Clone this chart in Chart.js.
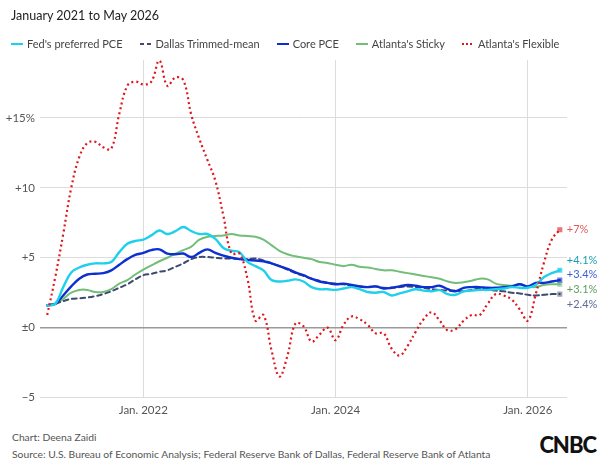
<!DOCTYPE html>
<html>
<head>
<meta charset="utf-8">
<script src="https://cdn.jsdelivr.net/npm/chart.js@4/dist/chart.umd.min.js"></script>
<style>
  html, body { margin: 0; padding: 0; background: #fff; }
  body { width: 600px; height: 464px; position: relative; overflow: hidden; font-family: Lato, "Open Sans", sans-serif; }
  #chartBox { position: absolute; left: 0; top: 0; width: 600px; height: 425px; }
  #title { position: absolute; left: 11px; top: 8px; font-size: 12.5px; color: #222; }
  #legend { position: absolute; left: 11px; top: 37px; display: flex; font-size: 11px; color: #444; white-space: nowrap; }
  .item { display: flex; align-items: center; margin-right: 17px; }
  .sw { width: 12px; height: 2px; margin-right: 4px; }
  #credit { position: absolute; left: 12px; top: 429px; font-size: 10.3px; color: #555; line-height: 17px; }
  #logo { position: absolute; right: 4px; top: 431px; font-family: Lato, sans-serif; font-weight: 900; font-size: 22px; color: #111; letter-spacing: -1px; }
</style>
</head>
<body>
<div id="chartBox"><canvas id="myChart" width="600" height="425"></canvas></div>
<div id="title">January 2021 to May 2026</div>
<div id="legend"></div>
<div id="credit">Chart: Deena Zaidi<br>Source: U.S. Bureau of Economic Analysis; Federal Reserve Bank of Dallas, Federal Reserve Bank of Atlanta</div>
<div id="logo">CNBC</div>
<script>
// months are counted from Jan 2021 (0) to May 2026 (64)
const xTickMonths = [12, 36, 60];
const xTickLabels = ['Jan. 2022', 'Jan. 2024', 'Jan. 2026'];
const yTicks = [-5, 0, 5, 10, 15];
const yTickLabels = ['\u22125', '\u00b10', '+5', '+10', '+15%'];

const seriesNames = ["Fed's preferred PCE", 'Dallas Trimmed-mean', 'Core PCE', "Atlanta's Sticky", "Atlanta's Flexible"];

const fedPCE = [1.6,1.7,2.9,3.95,4.3,4.5,4.6,4.6,4.7,5.4,6.0,6.2,6.3,6.6,6.95,6.7,6.9,7.2,6.9,6.7,6.7,6.35,5.7,5.5,5.4,4.7,4.4,4.1,3.4,3.3,3.35,3.45,3.3,2.9,2.75,2.75,2.7,2.8,2.9,2.75,2.55,2.5,2.55,2.3,2.45,2.6,2.75,2.65,2.6,2.68,2.4,2.35,2.6,2.65,2.7,2.7,2.75,2.8,2.9,2.85,2.85,3.05,3.6,3.9,4.1];
const dallasTrimmed = [1.6,1.7,1.9,2.05,2.1,2.15,2.25,2.4,2.6,2.85,3.1,3.45,3.75,3.85,4.0,4.1,4.35,4.6,4.9,5.05,5.05,5.0,4.95,4.95,4.9,4.9,4.95,4.8,4.6,4.4,4.15,3.9,3.7,3.5,3.35,3.2,3.15,3.1,3.0,2.95,2.9,2.95,2.85,2.85,2.9,2.95,2.9,2.85,2.75,2.7,2.65,2.65,2.6,2.7,2.8,2.75,2.65,2.6,2.5,2.45,2.35,2.3,2.35,2.4,2.4];
const corePCE = [1.6,1.7,2.3,2.95,3.5,3.8,3.85,3.9,4.1,4.5,4.9,5.2,5.35,5.55,5.6,5.3,5.25,5.3,5.05,5.35,5.6,5.35,5.15,5.0,4.9,4.85,4.8,4.75,4.6,4.4,4.2,3.95,3.75,3.5,3.3,3.2,3.1,3.15,3.05,2.95,2.9,2.95,2.8,2.85,2.95,3.05,3.0,2.9,2.9,3.0,2.75,2.6,2.85,2.9,2.9,2.85,2.85,2.9,2.95,3.1,2.95,3.2,3.2,3.3,3.4];
const atlSticky = [1.6,1.7,2.05,2.5,2.7,2.7,2.55,2.55,2.75,3.15,3.4,3.8,4.15,4.45,4.75,5.0,5.3,5.55,5.8,6.3,6.5,6.55,6.6,6.7,6.6,6.55,6.5,6.3,5.9,5.5,5.25,5.1,5.0,4.9,4.7,4.63,4.5,4.4,4.5,4.35,4.3,4.2,4.1,4.1,4.0,3.9,3.8,3.7,3.6,3.5,3.3,3.2,3.25,3.35,3.5,3.45,3.15,3.05,3.0,3.1,2.95,2.9,3.05,3.1,3.1];
const atlFlexible = [0.9,3.6,6.7,10.0,12.2,13.2,13.3,12.9,12.8,15.3,17.3,17.6,17.4,17.6,19.1,17.3,17.9,17.7,15.2,13.5,12.0,10.5,8.0,5.3,5.3,3.5,0.5,0.9,-1.6,-3.5,-2.0,0.3,0.1,-1.0,-0.5,0.0,-0.9,0.2,0.8,0.6,0.2,-0.4,-0.4,-1.5,-2.0,-1.3,-0.3,0.6,1.1,0.5,-0.2,-0.1,0.5,0.9,0.9,1.7,2.4,2.3,2.0,1.3,0.5,2.4,4.6,6.3,7.0];

const endLabels = ['+4.1%', '+2.4%', '+3.4%', '+3.1%', '+7%'];

const lineColors = ['#1fd0ea', '#3e4a6e', '#0b2fd0', '#72bd78', '#e0161c'];
const labelColors = ['#1b9fb0', '#5f6b94', '#3f5fd6', '#5e9f5e', '#e05a5a'];
const markerColors = ['rgba(31,208,234,0.75)', 'rgba(62,74,110,0.5)', 'rgba(11,47,208,0.6)', 'rgba(114,189,120,0.6)', 'rgba(224,22,28,0.6)'];
const dashes = [[], [5, 3.5], [], [], [2, 3]];
const widths = [2.4, 2, 2.4, 2, 2.2];
const drawOrder = [1, 3, 2, 4, 0];

const allSeries = [fedPCE, dallasTrimmed, corePCE, atlSticky, atlFlexible];

// legend, swatches drawn as little css stripes
const legendEl = document.getElementById('legend');
seriesNames.forEach((name, i) => {
  let bg = lineColors[i];
  if (i === 1) bg = 'repeating-linear-gradient(90deg,' + lineColors[i] + ' 0 4px,transparent 4px 7px)';
  if (i === 4) bg = 'repeating-linear-gradient(90deg,' + lineColors[i] + ' 0 2px,transparent 2px 4px)';
  legendEl.insertAdjacentHTML('beforeend',
    '<div class="item"><span class="sw" style="background:' + bg + '"></span>' + name + '</div>');
});

const endLabelPlugin = {
  id: 'endLabels',
  afterDatasetsDraw(chart) {
    const ctx = chart.ctx;
    const gap = 14.6;
    const items = chart.data.datasets.map((ds, i) => {
      const meta = chart.getDatasetMeta(i);
      const pt = meta.data[meta.data.length - 1];
      return { x: pt.x, y: pt.y, text: endLabels[i], color: labelColors[i] };
    }).sort((a, b) => a.y - b.y);
    let groups = items.map(it => ({ members: [it] }));
    const center = g => g.members.reduce((s, m) => s + m.y, 0) / g.members.length;
    let changed = true;
    while (changed) {
      changed = false;
      for (let k = 0; k < groups.length - 1; k++) {
        const a = groups[k], b = groups[k + 1];
        const aBottom = center(a) + (a.members.length - 1) * gap / 2;
        const bTop = center(b) - (b.members.length - 1) * gap / 2;
        if (bTop - aBottom < gap) {
          groups.splice(k, 2, { members: a.members.concat(b.members) });
          changed = true;
          break;
        }
      }
    }
    ctx.save();
    ctx.font = '11px Lato, sans-serif';
    ctx.textBaseline = 'middle';
    ctx.textAlign = 'left';
    groups.forEach(g => {
      const c = center(g);
      g.members.forEach((m, j) => {
        ctx.fillStyle = m.color;
        ctx.fillText(m.text, m.x + 7, c - (g.members.length - 1) * gap / 2 + j * gap);
      });
    });
    ctx.restore();
  }
};

new Chart(document.getElementById('myChart'), {
  type: 'line',
  data: {
    datasets: allSeries.map((vals, i) => ({
      label: seriesNames[i],
      data: vals.map((v, m) => ({ x: m, y: v })),
      borderColor: lineColors[i],
      borderWidth: widths[i],
      borderDash: dashes[i],
      borderCapStyle: i === 4 ? 'butt' : 'round',
      tension: 0.4,
      fill: false,
      order: drawOrder[i],
      pointStyle: 'rect',
      pointRadius: ctx => ctx.dataIndex === vals.length - 1 ? 3.6 : 0,
      pointBackgroundColor: markerColors[i],
      pointBorderWidth: 0,
      pointHoverRadius: 0
    }))
  },
  options: {
    responsive: false,
    animation: false,
    layout: { padding: { top: 60, right: 33, left: 0, bottom: 0 } },
    plugins: { legend: { display: false }, tooltip: { enabled: false } },
    scales: {
      x: {
        type: 'linear',
        min: -0.9,
        max: 64.9,
        afterBuildTicks: scale => { scale.ticks = xTickMonths.map(v => ({ value: v })); },
        afterFit: scale => { scale.height = 27.5; },
        border: { display: false },
        grid: { color: '#dcdcdc', lineWidth: 1, drawTicks: false },
        ticks: {
          padding: 6,
          maxRotation: 0,
          autoSkip: false,
          color: '#555',
          font: { family: 'Lato', size: 11.5 },
          callback: v => xTickLabels[xTickMonths.indexOf(v)]
        }
      },
      y: {
        min: -5,
        max: 19.15,
        afterBuildTicks: scale => { scale.ticks = yTicks.map(v => ({ value: v })); },
        afterFit: scale => { scale.width = 40; },
        border: { display: false },
        grid: {
          color: ctx => ctx.tick && ctx.tick.value === 0 ? '#9a9a9a' : '#dcdcdc',
          lineWidth: ctx => ctx.tick && ctx.tick.value === 0 ? 1.6 : 1,
          drawTicks: false
        },
        ticks: {
          padding: 5,
          color: '#555',
          font: { family: 'Lato', size: 11.5 },
          callback: v => yTickLabels[yTicks.indexOf(v)]
        }
      }
    }
  },
  plugins: [endLabelPlugin]
});
</script>
</body>
</html>
